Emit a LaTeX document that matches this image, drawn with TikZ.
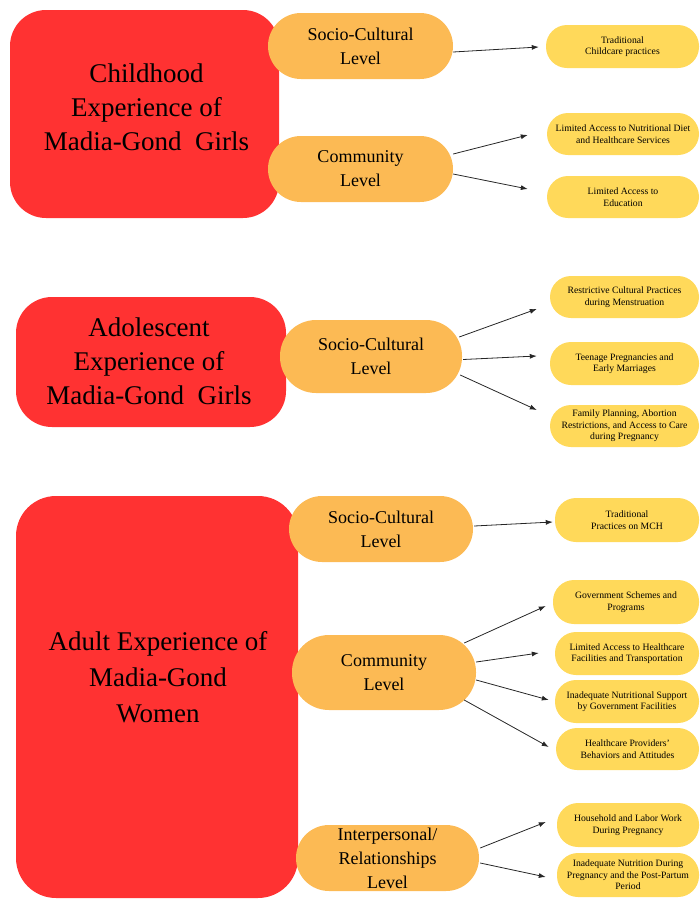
\documentclass[tikz,border=0pt]{standalone}
\usepackage{fontspec}
\setmainfont{Liberation Serif}
\usetikzlibrary{arrows.meta,calc}
\definecolor{cred}{RGB}{255,50,50}
\definecolor{corange}{RGB}{252,186,84}
\definecolor{cyellow}{RGB}{255,217,90}
\tikzset{
  bigbox/.style={fill=cred, draw=none, inner sep=0pt},
  bigtxt/.style={align=center, inner sep=0pt, font=\fontsize{27}{34}\selectfont},
  lvl/.style={fill=corange, draw=none, inner sep=0pt, align=center, font=\fontsize{18}{24}\selectfont},
  leaf/.style={fill=cyellow, draw=none, inner sep=0pt, align=center, rounded corners=21pt, font=\fontsize{9.7}{11.5}\selectfont},
  arr/.style={-{Latex[length=7pt,width=5pt]}, line width=0.8pt, draw=black!85}
}
\begin{document}
\begin{tikzpicture}[x=1pt,y=-1pt]
\useasboundingbox (0,0) rectangle (700,900);

% ---------- red boxes ----------
\node[bigbox, rounded corners=36pt, minimum width=269pt, minimum height=208pt] (r1) at (144.5,114) {};
\node[bigtxt] (r1t) at (146.5,107) {Childhood\\Experience of\\Madia-Gond\ \ Girls};

\node[bigbox, rounded corners=36pt, minimum width=270pt, minimum height=130pt] (r2) at (151,362) {};
\node[bigtxt] (r2t) at (149,361) {Adolescent\\Experience of\\Madia-Gond\ \ Girls};

\node[bigbox, rounded corners=40pt, minimum width=282pt, minimum height=402pt] (r3) at (157,697) {};
\node[bigtxt, font=\fontsize{27}{36}\selectfont] (r3t) at (158,677) {Adult Experience of\\Madia-Gond\\Women};

% ---------- level boxes ----------
\node[lvl, rounded corners=33pt, minimum width=185pt, minimum height=66pt] (s1) at (360.5,46) {Socio-Cultural\\Level};
\node[lvl, rounded corners=33pt, minimum width=185pt, minimum height=66pt] (c1) at (360.5,169) {Community\\Level};
\node[lvl, rounded corners=36pt, minimum width=182pt, minimum height=73pt] (s2) at (371,356.5) {Socio-Cultural\\Level};
\node[lvl, rounded corners=33pt, minimum width=184pt, minimum height=66pt] (a1) at (381,529) {Socio-Cultural\\Level};
\node[lvl, rounded corners=37pt, minimum width=184pt, minimum height=75pt] (a2) at (384,672.5) {Community\\Level};
\node[lvl, rounded corners=33pt, minimum width=183pt, minimum height=66pt] (a3) at (387.5,858) {Interpersonal/\\Relationships\\Level};

% ---------- leaf boxes ----------
\node[leaf, minimum width=153pt, minimum height=43pt] (y1) at (622.5,46.5) {Traditional\\Childcare practices};
\node[leaf, minimum width=152pt, minimum height=42pt] (y2) at (623,134) {Limited Access to Nutritional Diet\\and Healthcare Services};
\node[leaf, minimum width=152pt, minimum height=42pt] (y3) at (623,197) {Limited Access to\\Education};

\node[leaf, minimum width=149pt, minimum height=42pt] (y4) at (624.5,297) {Restrictive Cultural Practices\\during Menstruation};
\node[leaf, minimum width=149pt, minimum height=43pt] (y5) at (624.5,363.5) {Teenage Pregnancies and\\Early Marriages};
\node[leaf, minimum width=149pt, minimum height=42pt] (y6) at (624.5,426) {Family Planning, Abortion\\Restrictions, and Access to Care\\during Pregnancy};

\node[leaf, minimum width=144pt, minimum height=44pt] (y7) at (627,520) {Traditional\\Practices on MCH};
\node[leaf, minimum width=146pt, minimum height=44pt] (y8) at (626,602) {Government Schemes and\\Programs};
\node[leaf, minimum width=144pt, minimum height=43pt] (y9) at (627,653.5) {Limited Access to Healthcare\\Facilities and Transportation};
\node[leaf, minimum width=144pt, minimum height=43pt] (y10) at (627,701.5) {Inadequate Nutritional Support\\by Government Facilities};
\node[leaf, minimum width=143pt, minimum height=42pt] (y11) at (627.5,749) {Healthcare Providers'\\Behaviors and Attitudes};
\node[leaf, minimum width=142pt, minimum height=44pt] (y12) at (628,825) {Household and Labor Work\\During Pregnancy};
\node[leaf, minimum width=142pt, minimum height=44pt] (y13) at (628,875) {Inadequate Nutrition During\\Pregnancy and the Post-Partum\\Period};

% ---------- arrows ----------
\draw[arr] ($(s1.east)+(0,6)$) -- ($(y1.west)+(-7,0.5)$);
\draw[arr] ($(c1.east)+(0,-15)$) -- ($(y2.west)+(-19,1)$);
\draw[arr] ($(c1.east)+(0,5)$) -- ($(y3.west)+(-19,-8)$);

\draw[arr] ($(s2.east)+(-3,-19.5)$) -- ($(y4.west)+(-13,12)$);
\draw[arr] ($(s2.east)+(1,3)$) -- ($(y5.west)+(-13,-7.5)$);
\draw[arr] ($(s2.east)+(-2,18.5)$) -- ($(y6.west)+(-13,-16)$);

\draw[arr] ($(a1.east)+(1,-3)$) -- ($(y7.west)+(-2,2)$);
\draw[arr] ($(a2.east)+(-12,-29.5)$) -- ($(y8.west)+(-7,4)$);
\draw[arr] ($(a2.east)+(0,-10.5)$) -- ($(y9.west)+(-16,-0.5)$);
\draw[arr] ($(a2.east)+(0,7.5)$) -- ($(y10.west)+(-6,-1.5)$);
\draw[arr] ($(a2.east)+(-12,27.5)$) -- ($(y11.west)+(-7,-2)$);
\draw[arr] ($(a3.east)+(1,-10)$) -- ($(y12.west)+(-11,-3)$);
\draw[arr] ($(a3.east)+(1,5)$) -- ($(y13.west)+(-11,2)$);
\end{tikzpicture}
\end{document}
